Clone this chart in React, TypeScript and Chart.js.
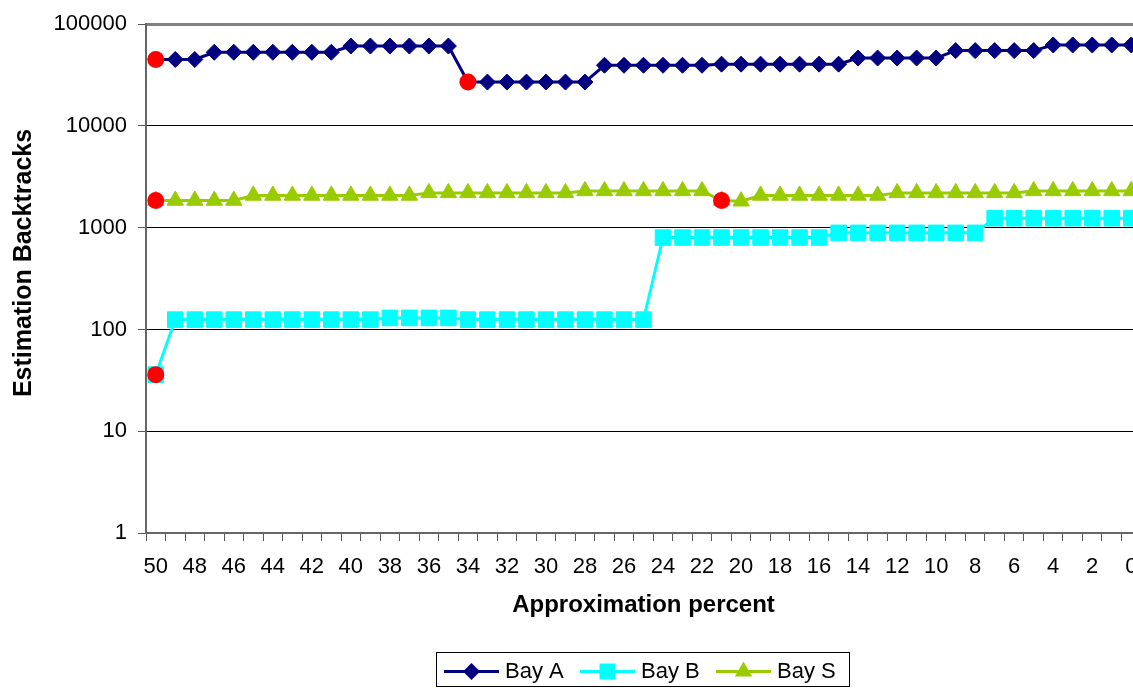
import React, { useEffect, useRef } from 'react';
import { Chart, registerables } from 'chart.js';

Chart.register(...registerables);

// ---- data ----
const categories = [
  '50', '49', '48', '47', '46', '45', '44', '43', '42', '41',
  '40', '39', '38', '37', '36', '35', '34', '33', '32', '31',
  '30', '29', '28', '27', '26', '25', '24', '23', '22', '21',
  '20', '19', '18', '17', '16', '15', '14', '13', '12', '11',
  '10', '9', '8', '7', '6', '5', '4', '3', '2', '1', '0',
];

const bayA = [
  45000, 45000, 45000, 53000, 53000, 53000, 53000, 53000, 53000, 53000,
  61000, 61000, 61000, 61000, 61000, 61000, 27000, 27000, 27000, 27000,
  27000, 27000, 27000, 39500, 39500, 39500, 39500, 39500, 39500, 40500,
  40500, 40500, 40500, 40500, 40500, 40500, 46500, 46500, 46500, 46500,
  46500, 55000, 55000, 55000, 55000, 55000, 62500, 62500, 62500, 62500, 62500,
];

const bayB = [
  36, 125, 125, 125, 125, 125, 125, 125, 125, 125,
  125, 125, 130, 130, 130, 130, 125, 125, 125, 125,
  125, 125, 125, 125, 125, 125, 800, 800, 800, 800,
  800, 800, 800, 800, 800, 890, 890, 890, 890, 890,
  890, 890, 890, 1240, 1240, 1240, 1240, 1240, 1240, 1240, 1240,
];

const bayS = [
  1850, 1850, 1850, 1850, 1850, 2075, 2075, 2075, 2075, 2075,
  2075, 2075, 2075, 2075, 2200, 2200, 2200, 2200, 2200, 2200,
  2200, 2200, 2300, 2300, 2300, 2300, 2300, 2300, 2300, 1850,
  1820, 2075, 2075, 2075, 2075, 2075, 2075, 2075, 2200, 2200,
  2200, 2200, 2200, 2200, 2200, 2300, 2300, 2300, 2300, 2300, 2300,
];

// highlighted (red) points
const markX = ['50', '34', '50', '21', '50'];
const markY = [45000, 27000, 1850, 1850, 36];

const yTickValues = [1, 10, 100, 1000, 10000, 100000];

const seriesNames = ['Bay A', 'Bay B', 'Bay S'];

// ---- styles ----
const NAVY = '#000080';
const CYAN = '#00FFFF';
const GREEN = '#99CC00';
const RED = '#FF0000';
const FONT = "'Liberation Sans', Arial, Helvetica, sans-serif";

function drawMarker(ctx: CanvasRenderingContext2D, style: string, x: number, y: number, color: string) {
  ctx.fillStyle = color;
  ctx.beginPath();
  if (style === 'rectRot') {
    const r = 8.5;
    ctx.moveTo(x - r, y);
    ctx.lineTo(x, y - r);
    ctx.lineTo(x + r, y);
    ctx.lineTo(x, y + r);
  } else if (style === 'rect') {
    const h = 8;
    ctx.rect(x - h, y - h, 2 * h, 2 * h);
  } else {
    const r = 10;
    ctx.moveTo(x, y - r);
    ctx.lineTo(x + r * 0.866, y + r / 2);
    ctx.lineTo(x - r * 0.866, y + r / 2);
  }
  ctx.closePath();
  ctx.fill();
}

const overlayPlugin = {
  id: 'overlay',
  afterDraw(chart: any) {
    const ctx: CanvasRenderingContext2D = chart.ctx;
    ctx.save();
    // y-axis title
    ctx.save();
    ctx.translate(24, 263);
    ctx.rotate(-Math.PI / 2);
    ctx.fillStyle = '#000';
    ctx.font = `bold 25px ${FONT}`;
    ctx.textAlign = 'center';
    ctx.textBaseline = 'middle';
    ctx.fillText('Estimation Backtracks', 0, 0);
    ctx.restore();

    // legend box
    ctx.strokeStyle = '#000';
    ctx.lineWidth = 1;
    ctx.strokeRect(436.5, 652.5, 413, 34);
    const items = [
      { x0: 444, color: NAVY, style: 'rectRot' },
      { x0: 580, color: CYAN, style: 'rect' },
      { x0: 716, color: GREEN, style: 'triangle' },
    ];
    const ly = 671.5;
    items.forEach((it, i) => {
      ctx.strokeStyle = it.color;
      ctx.lineWidth = 3;
      ctx.beginPath();
      ctx.moveTo(it.x0, ly);
      ctx.lineTo(it.x0 + 55, ly);
      ctx.stroke();
      drawMarker(ctx, it.style, it.x0 + 27.5, ly, it.color);
      ctx.fillStyle = '#000';
      ctx.font = `22px ${FONT}`;
      ctx.textAlign = 'left';
      ctx.textBaseline = 'middle';
      ctx.fillText(seriesNames[i], it.x0 + 61, ly);
    });
    ctx.restore();
  },
};

export default function App() {
  const canvasRef = useRef<HTMLCanvasElement | null>(null);

  useEffect(() => {
    if (!canvasRef.current) return;
    const chart = new Chart(canvasRef.current, {
      type: 'line',
      data: {
        labels: categories,
        datasets: [
          {
            label: 'marks',
            data: markX.map((x, i) => ({ x, y: markY[i] })) as any,
            showLine: false,
            pointStyle: 'circle',
            pointRadius: 8.5,
            pointBorderWidth: 0,
            pointBackgroundColor: RED,
            pointBorderColor: RED,
            backgroundColor: RED,
            borderColor: RED,
            order: 0,
          },
          {
            label: seriesNames[0],
            data: bayA,
            borderColor: NAVY,
            backgroundColor: NAVY,
            borderWidth: 3,
            pointStyle: 'rectRot',
            pointRadius: 8,
            pointBorderWidth: 1,
            pointBackgroundColor: NAVY,
            pointBorderColor: NAVY,
            tension: 0,
            order: 1,
          },
          {
            label: seriesNames[1],
            data: bayB,
            borderColor: CYAN,
            backgroundColor: CYAN,
            borderWidth: 3,
            pointStyle: 'rect',
            pointRadius: 11,
            pointBorderWidth: 1,
            pointBackgroundColor: CYAN,
            pointBorderColor: CYAN,
            tension: 0,
            order: 2,
          },
          {
            label: seriesNames[2],
            data: bayS,
            borderColor: GREEN,
            backgroundColor: GREEN,
            borderWidth: 3,
            pointStyle: 'triangle',
            pointRadius: 9.5,
            pointBorderWidth: 1,
            pointBackgroundColor: GREEN,
            pointBorderColor: GREEN,
            tension: 0,
            order: 3,
          },
        ],
      },
      options: {
        responsive: false,
        animation: false,
        events: [],
        layout: { padding: { top: 21, left: 0, right: 0, bottom: 68 } },
        plugins: {
          legend: { display: false },
          tooltip: { enabled: false },
        },
        scales: {
          x: {
            type: 'category',
            offset: true,
            grid: {
              display: true,
              drawOnChartArea: false,
              drawTicks: true,
              tickLength: 8,
              offset: true,
              color: '#555',
              lineWidth: 1,
            },
            border: { display: true, color: '#666', width: 2 },
            ticks: {
              autoSkip: false,
              maxRotation: 0,
              minRotation: 0,
              padding: 13,
              color: '#000',
              font: { family: FONT, size: 22 },
              callback: (_v: any, i: number) => (i % 2 === 0 ? categories[i] : ''),
            },
            title: {
              display: true,
              text: 'Approximation percent',
              color: '#000',
              font: { family: FONT, size: 24, weight: 'bold' },
              padding: { top: 0, bottom: 0 },
            },
            afterFit: (s: any) => {
              s.height = 87;
            },
          },
          y: {
            type: 'logarithmic',
            min: 1,
            max: 100000,
            afterBuildTicks: (s: any) => {
              s.ticks = yTickValues.map((v) => ({ value: v }));
            },
            ticks: {
              padding: 11,
              color: '#000',
              font: { family: FONT, size: 22 },
              callback: (v: any) => String(v),
            },
            grid: {
              color: (c: any) => (c.tick && (c.tick.value === 100000 || c.tick.value === 1) ? '#808080' : '#000'),
              lineWidth: (c: any) => (c.tick && c.tick.value === 100000 ? 3 : 1),
              tickLength: 8,
              tickColor: '#555',
              tickWidth: 1,
            },
            border: { display: true, color: '#666', width: 2 },
            afterFit: (s: any) => {
              s.width = 146;
            },
          },
        },
      },
      plugins: [overlayPlugin],
    } as any);
    return () => chart.destroy();
  }, []);

  return (
    <div style={{ position: 'fixed', left: 0, top: 0, width: 1133, height: 688, overflow: 'hidden', background: '#fff' }}>
      <canvas ref={canvasRef} width={1153} height={688} style={{ display: 'block', width: 1153, height: 688 }} />
    </div>
  );
}
